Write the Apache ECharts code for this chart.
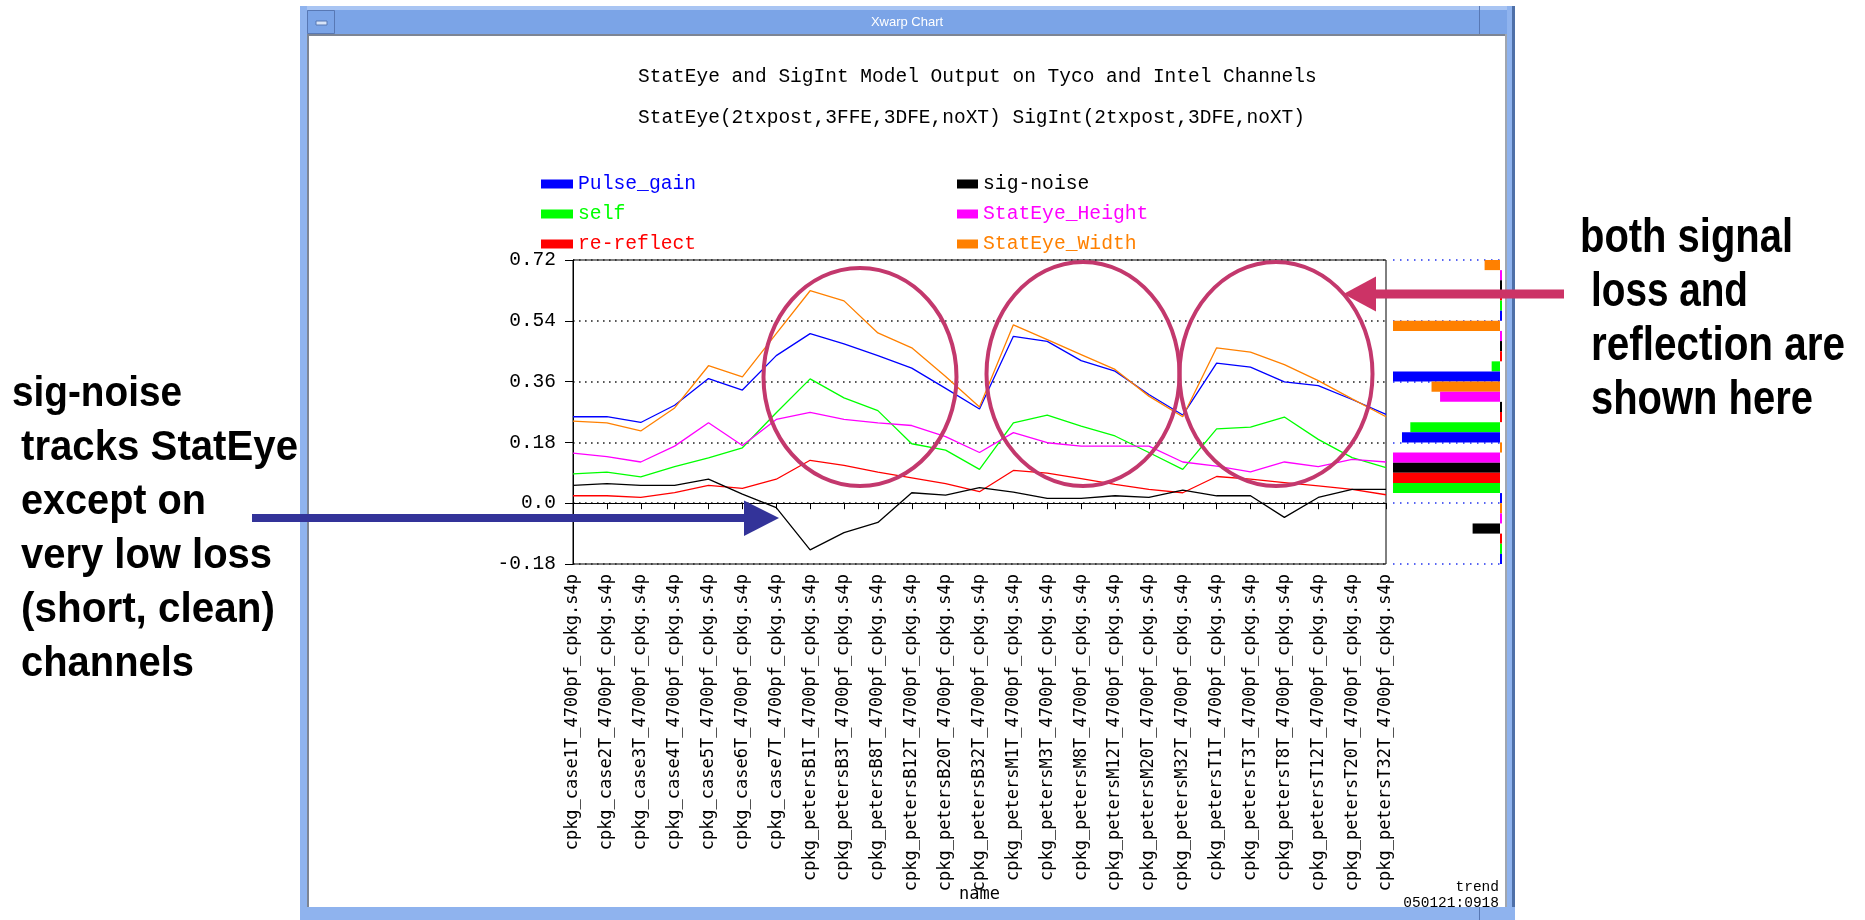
<!DOCTYPE html>
<html>
<head>
<meta charset="utf-8">
<script src="https://cdn.jsdelivr.net/npm/echarts@6/dist/echarts.min.js"></script>
<style>
html,body{margin:0;padding:0;background:#fff;}
#chart{width:1865px;height:920px;}
</style>
</head>
<body>
<div id="chart"></div>
<script>
// ---------------- data ----------------
const categories = [
  'cpkg_case1T_4700pf_cpkg.s4p','cpkg_case2T_4700pf_cpkg.s4p','cpkg_case3T_4700pf_cpkg.s4p',
  'cpkg_case4T_4700pf_cpkg.s4p','cpkg_case5T_4700pf_cpkg.s4p','cpkg_case6T_4700pf_cpkg.s4p',
  'cpkg_case7T_4700pf_cpkg.s4p',
  'cpkg_petersB1T_4700pf_cpkg.s4p','cpkg_petersB3T_4700pf_cpkg.s4p','cpkg_petersB8T_4700pf_cpkg.s4p',
  'cpkg_petersB12T_4700pf_cpkg.s4p','cpkg_petersB20T_4700pf_cpkg.s4p','cpkg_petersB32T_4700pf_cpkg.s4p',
  'cpkg_petersM1T_4700pf_cpkg.s4p','cpkg_petersM3T_4700pf_cpkg.s4p','cpkg_petersM8T_4700pf_cpkg.s4p',
  'cpkg_petersM12T_4700pf_cpkg.s4p','cpkg_petersM20T_4700pf_cpkg.s4p','cpkg_petersM32T_4700pf_cpkg.s4p',
  'cpkg_petersT1T_4700pf_cpkg.s4p','cpkg_petersT3T_4700pf_cpkg.s4p','cpkg_petersT8T_4700pf_cpkg.s4p',
  'cpkg_petersT12T_4700pf_cpkg.s4p','cpkg_petersT20T_4700pf_cpkg.s4p','cpkg_petersT32T_4700pf_cpkg.s4p'
];
const pulseGain     = [0.256,0.256,0.239,0.290,0.369,0.335,0.437,0.502,0.472,0.437,0.400,0.340,0.279,0.494,0.479,0.422,0.391,0.322,0.261,0.415,0.403,0.359,0.348,0.307,0.263];
const selfXT        = [0.087,0.092,0.078,0.108,0.134,0.164,0.268,0.368,0.312,0.274,0.176,0.157,0.100,0.238,0.261,0.228,0.199,0.150,0.100,0.220,0.225,0.255,0.189,0.135,0.105];
const reReflect     = [0.022,0.022,0.017,0.031,0.053,0.044,0.071,0.127,0.112,0.092,0.075,0.058,0.034,0.097,0.089,0.073,0.056,0.041,0.031,0.079,0.071,0.061,0.051,0.041,0.025];
const sigNoise      = [0.053,0.058,0.053,0.053,0.071,0.027,-0.013,-0.138,-0.087,-0.057,0.031,0.024,0.046,0.033,0.014,0.014,0.022,0.017,0.039,0.022,0.022,-0.042,0.017,0.041,0.041];
const statEyeHeight = [0.148,0.138,0.122,0.169,0.238,0.171,0.248,0.269,0.248,0.238,0.230,0.197,0.150,0.209,0.179,0.169,0.169,0.169,0.122,0.110,0.093,0.122,0.108,0.130,0.122];
const statEyeWidth  = [0.243,0.238,0.214,0.282,0.407,0.374,0.502,0.629,0.599,0.504,0.460,0.375,0.285,0.528,0.484,0.440,0.396,0.317,0.256,0.460,0.447,0.410,0.363,0.309,0.256];

const yTickValues = [-0.18, 0, 0.18, 0.36, 0.54, 0.72];
const yTickLabels = ['-0.18', '0.0', '0.18', '0.36', '0.54', '0.72'];

// side "trend" panel: 30 bins from 0.72 down to -0.18, bar lengths (relative, full = 100)
const trendBins = [
  '0.69~0.72','0.66~0.69','0.63~0.66','0.60~0.63','0.57~0.60','0.54~0.57',
  '0.51~0.54','0.48~0.51','0.45~0.48','0.42~0.45','0.39~0.42','0.36~0.39',
  '0.33~0.36','0.30~0.33','0.27~0.30','0.24~0.27','0.21~0.24','0.18~0.21',
  '0.15~0.18','0.12~0.15','0.09~0.12','0.06~0.09','0.03~0.06','0.00~0.03',
  '-0.03~0.00','-0.06~-0.03','-0.09~-0.06','-0.12~-0.09','-0.15~-0.12','-0.18~-0.15'
];
const trendValues = [14.4,0,0,0,0,0, 100,0,0,0,7.8,100, 64,56,0,0,83.8,91.6, 0,100,100,100,100,0, 0,0,25.6,0,0,0];
const trendColorCycle = ['#FF8000','#FF00FF','#000000','#FF0000','#00FF00','#0000FF'];

const titleLines = [
  'StatEye and SigInt Model Output on Tyco and Intel Channels',
  'StatEye(2txpost,3FFE,3DFE,noXT) SigInt(2txpost,3DFE,noXT)'
];
const leftNote  = ['sig-noise', 'tracks StatEye', 'except on', 'very low loss', '(short, clean)', 'channels'];
const rightNote = ['both signal', 'loss and', 'reflection are', 'shown here'];

// ---------------- styles / layout ----------------
const MONO = '"Liberation Mono", "DejaVu Sans Mono", monospace';
const LBL  = '"DejaVu Sans Mono", "Liberation Mono", monospace';
const seriesDefs = [
  { name: 'Pulse_gain',    data: pulseGain,     color: '#0000FF' },
  { name: 'self',          data: selfXT,        color: '#00FF00' },
  { name: 're-reflect',    data: reReflect,     color: '#FF0000' },
  { name: 'sig-noise',     data: sigNoise,      color: '#000000' },
  { name: 'StatEye_Height',data: statEyeHeight, color: '#FF00FF' },
  { name: 'StatEye_Width', data: statEyeWidth,  color: '#FF8000' }
];

function yLabel(v) {
  let best = 0;
  for (let i = 1; i < yTickValues.length; i++) {
    if (Math.abs(yTickValues[i] - v) < Math.abs(yTickValues[best] - v)) best = i;
  }
  return yTickLabels[best];
}

const lineSeries = seriesDefs.map(s => ({
  name: s.name, type: 'line', data: s.data,
  xAxisIndex: 0, yAxisIndex: 0,
  showSymbol: false, symbol: 'none',
  lineStyle: { color: s.color, width: 1.3 },
  itemStyle: { color: s.color },
  z: 3, silent: true
}));

const trendSeries = {
  name: 'trend', type: 'bar',
  xAxisIndex: 1, yAxisIndex: 1,
  data: trendValues.map((v, k) => ({ value: v, itemStyle: { color: trendColorCycle[k % 6] } })),
  barWidth: '100%', barCategoryGap: '0%', barMinHeight: 2,
  silent: true, z: 2
};

function legendData(names) {
  return names.map(n => {
    const d = seriesDefs.find(s => s.name === n);
    return { name: n, icon: 'rect', textStyle: { color: d.color } };
  });
}

// horizontal fitting of annotation lines (condensed bold look of the slide text)
const mctx = document.createElement('canvas').getContext('2d');
function fitScale(text, font, target) {
  mctx.font = font;
  const w = mctx.measureText(text).width;
  return w > 0 ? target / w : 1;
}
const LEFT_FONT  = 'bold 43px "Liberation Sans", Arial, sans-serif';
const RIGHT_FONT = 'bold 48px "Liberation Sans", Arial, sans-serif';
const leftWidths  = [170, 277, 185, 251, 254, 173];
const rightWidths = [213, 157, 254, 222];

const annotText = [];
leftNote.forEach((t, i) => {
  annotText.push({
    type: 'text', x: i === 0 ? 12 : 21, y: 394 + i * 54, z: 120,
    scaleX: fitScale(t, LEFT_FONT, leftWidths[i]),
    style: { text: t, font: LEFT_FONT, fill: '#000',
             align: 'left', verticalAlign: 'middle', textAlign: 'left', textVerticalAlign: 'middle' }
  });
});
rightNote.forEach((t, i) => {
  annotText.push({
    type: 'text', x: i === 0 ? 1580 : 1591, y: 238.8 + i * 53.9, z: 120,
    scaleX: fitScale(t, RIGHT_FONT, rightWidths[i]),
    style: { text: t, font: RIGHT_FONT, fill: '#000',
             align: 'left', verticalAlign: 'middle', textAlign: 'left', textVerticalAlign: 'middle' }
  });
});

const frame = [
  { type: 'rect', shape: { x: 300, y: 6, width: 1215, height: 4 }, style: { fill: '#A9C5F3' }, z: 10 },
  { type: 'rect', shape: { x: 300, y: 10, width: 1215, height: 24 }, style: { fill: '#7BA4E7' }, z: 10 },
  { type: 'rect', shape: { x: 307, y: 34, width: 1198, height: 2 }, style: { fill: '#7D8594' }, z: 10 },
  { type: 'rect', shape: { x: 300, y: 6, width: 7, height: 914 }, style: { fill: '#8FB3EE' }, z: 10 },
  { type: 'rect', shape: { x: 307, y: 34, width: 2, height: 873 }, style: { fill: '#7D8594' }, z: 10 },
  { type: 'rect', shape: { x: 1505, y: 34, width: 2, height: 873 }, style: { fill: '#A0A6B0' }, z: 10 },
  { type: 'rect', shape: { x: 1507, y: 6, width: 5, height: 914 }, style: { fill: '#8FB3EE' }, z: 10 },
  { type: 'rect', shape: { x: 1512, y: 6, width: 3, height: 914 }, style: { fill: '#4E70A8' }, z: 10 },
  { type: 'rect', shape: { x: 300, y: 907, width: 1215, height: 13 }, style: { fill: '#8FB3EE' }, z: 10 },
  { type: 'rect', shape: { x: 307.5, y: 10.5, width: 27, height: 23 }, style: { fill: 'none', stroke: '#5878B4', lineWidth: 1 }, z: 11 },
  { type: 'rect', shape: { x: 316, y: 21, width: 11, height: 4 }, style: { fill: '#D8E4F8', stroke: '#5878B4', lineWidth: 1 }, z: 11 },
  { type: 'line', shape: { x1: 1479.5, y1: 6, x2: 1479.5, y2: 34 }, style: { stroke: '#5878B4', lineWidth: 1 }, z: 11 },
  { type: 'line', shape: { x1: 1479.5, y1: 907, x2: 1479.5, y2: 920 }, style: { stroke: '#5878B4', lineWidth: 1 }, z: 11 },
  { type: 'text', x: 907, y: 22, z: 12,
    style: { text: 'Xwarp Chart', font: '13px "Liberation Sans", sans-serif', fill: '#FFFFFF',
             align: 'center', verticalAlign: 'middle', textAlign: 'center', textVerticalAlign: 'middle' } },
  { type: 'text', x: 1499, y: 887, z: 12,
    style: { text: 'trend', font: '14.5px ' + MONO, fill: '#000',
             align: 'right', verticalAlign: 'middle', textAlign: 'right', textVerticalAlign: 'middle' } },
  { type: 'text', x: 1499, y: 903, z: 12,
    style: { text: '050121:0918', font: '14.5px ' + MONO, fill: '#000',
             align: 'right', verticalAlign: 'middle', textAlign: 'right', textVerticalAlign: 'middle' } }
];

const ACC = '#C3386D';
const marks = [
  { type: 'ellipse', shape: { cx: 860, cy: 377, rx: 96.5, ry: 109 }, style: { fill: 'none', stroke: ACC, lineWidth: 4 }, z: 110 },
  { type: 'ellipse', shape: { cx: 1083, cy: 374, rx: 96.5, ry: 112 }, style: { fill: 'none', stroke: ACC, lineWidth: 4 }, z: 110 },
  { type: 'ellipse', shape: { cx: 1276, cy: 374, rx: 96.5, ry: 112 }, style: { fill: 'none', stroke: ACC, lineWidth: 4 }, z: 110 },
  { type: 'rect', shape: { x: 252, y: 514, width: 494, height: 8 }, style: { fill: '#333399' }, z: 115 },
  { type: 'polygon', shape: { points: [[744, 500.5], [744, 536], [779, 518]] }, style: { fill: '#333399' }, z: 115 },
  { type: 'rect', shape: { x: 1375, y: 289.5, width: 189, height: 9 }, style: { fill: '#CC3366' }, z: 115 },
  { type: 'polygon', shape: { points: [[1376, 276.5], [1376, 311.5], [1343.5, 294]] }, style: { fill: '#CC3366' }, z: 115 }
];

const option = {
  animation: false,
  backgroundColor: '#FFFFFF',
  title: {
    text: titleLines[0], subtext: titleLines[1],
    left: 638, top: 67, padding: 0, itemGap: 21,
    textStyle: { fontFamily: MONO, fontSize: 19.5, fontWeight: 'normal', color: '#000', lineHeight: 20 },
    subtextStyle: { fontFamily: MONO, fontSize: 19.5, fontWeight: 'normal', color: '#000', lineHeight: 20 }
  },
  legend: [
    { data: legendData(['Pulse_gain', 'self', 're-reflect']), orient: 'vertical',
      left: 541, top: 174, padding: 0, itemGap: 10, itemWidth: 32, itemHeight: 9,
      textStyle: { fontFamily: MONO, fontSize: 19.7, lineHeight: 20 }, selectedMode: false },
    { data: legendData(['sig-noise', 'StatEye_Height', 'StatEye_Width']), orient: 'vertical',
      left: 957, top: 174, padding: 0, itemGap: 10, itemWidth: 21, itemHeight: 9,
      textStyle: { fontFamily: MONO, fontSize: 19.7, lineHeight: 20 }, selectedMode: false }
  ],
  grid: [
    { left: 573, top: 260, width: 813, height: 304, show: true, borderColor: '#000', borderWidth: 1, backgroundColor: 'transparent' },
    { left: 1393, top: 260, width: 110, height: 304 }
  ],
  xAxis: [
    { type: 'category', gridIndex: 0, data: categories, boundaryGap: false,
      axisLine: { show: true, lineStyle: { color: '#000', width: 1 } },
      axisTick: { show: true, length: 6, inside: false, lineStyle: { color: '#000' } },
      axisLabel: { rotate: 90, interval: 0, margin: 10, fontFamily: LBL, fontSize: 17, color: '#000' },
      splitLine: { show: false },
      name: 'name', nameLocation: 'middle', nameGap: 322, nameMoveOverlap: false,
      nameTextStyle: { fontFamily: LBL, fontSize: 17, color: '#000' } },
    { type: 'value', gridIndex: 1, min: -2.8, max: 100, inverse: true, show: false,
      splitLine: { show: false } }
  ],
  yAxis: [
    { type: 'value', gridIndex: 0, min: -0.18, max: 0.72, interval: 0.18,
      axisLine: { show: true, lineStyle: { color: '#000', width: 1 } },
      axisTick: { show: true, length: 8, inside: false, lineStyle: { color: '#000' } },
      axisLabel: { formatter: yLabel, margin: 17, fontFamily: MONO, fontSize: 19.5, color: '#000', padding: [5, 0, 0, 0] },
      splitLine: { show: true, lineStyle: { color: '#222', width: 1.6, type: [1.6, 4.4] } } },
    { type: 'category', gridIndex: 1, data: trendBins, inverse: true, show: false },
    { type: 'value', gridIndex: 1, min: -0.18, max: 0.72, interval: 0.18, position: 'right',
      axisLine: { show: false }, axisTick: { show: false }, axisLabel: { show: false },
      splitLine: { show: true, lineStyle: { color: '#2233EE', width: 1.5, type: [1.5, 5.5] } } }
  ],
  series: lineSeries.concat([trendSeries]),
  graphic: { elements: frame.concat(marks, annotText) }
};

const chart = echarts.init(document.getElementById('chart'), null, { renderer: 'canvas', width: 1865, height: 920 });
chart.setOption(option);
</script>
</body>
</html>
